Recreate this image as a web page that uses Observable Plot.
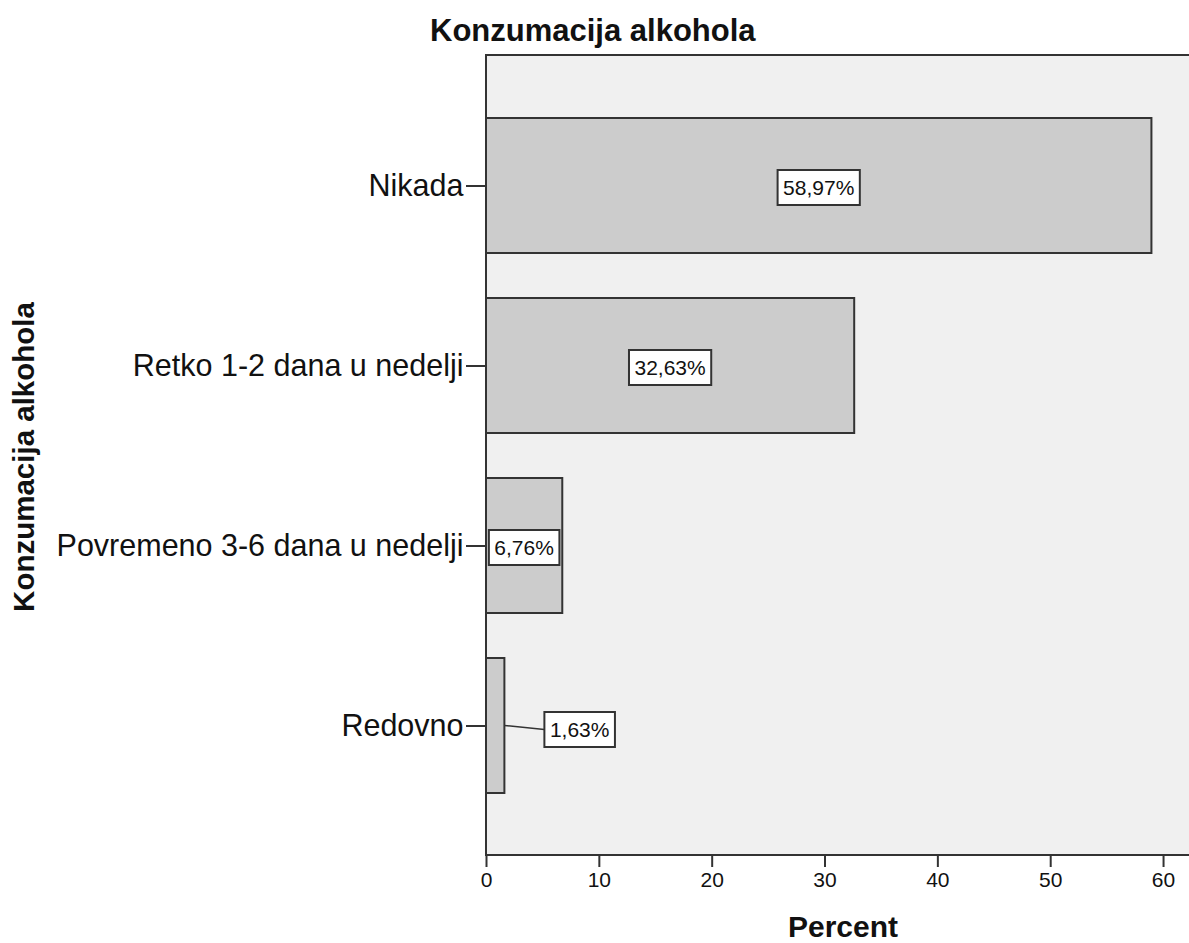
<!DOCTYPE html>
<html><head><meta charset="utf-8">
<script src="https://cdn.jsdelivr.net/npm/d3@7"></script>
<script src="https://cdn.jsdelivr.net/npm/@observablehq/plot@0.6"></script>
<style>body{margin:0;background:#fff;}</style>
</head><body><div id="chart"></div>
<script>
const categories = ["Nikada", "Retko 1-2 dana u nedelji", "Povremeno 3-6 dana u nedelji", "Redovno"];
const percents = [58.97, 32.63, 6.76, 1.63];
const valueLabels = ["58,97%", "32,63%", "6,76%", "1,63%"];
const xTicks = [0, 10, 20, 30, 40, 50, 60];
const chartTitle = "Konzumacija alkohola";
const xTitle = "Percent";
const yTitle = "Konzumacija alkohola";

const FONT = '"Liberation Sans", Arial, sans-serif';
const data = categories.map((c, i) => ({category: c, percent: percents[i], label: valueLabels[i]}));

function frameLines(index, scales, values, dim) {
  const l = dim.marginLeft, t = dim.marginTop, b = dim.height - dim.marginBottom, r = dim.width - dim.marginRight;
  const g = d3.create("svg:g");
  g.append("path").attr("d", `M${r},${t}H${l}V${b}H${r}`)
    .attr("fill", "none").attr("stroke", "#333").attr("stroke-width", 2);
  return g.node();
}

function boxedLabels(index, scales, values, dim) {
  const g = d3.create("svg:g").attr("font-family", FONT).attr("font-size", 21);
  const ctx = document.createElement("canvas").getContext("2d");
  ctx.font = `21px ${FONT}`;
  const bw = scales.y.bandwidth ? scales.y.bandwidth() : 0;
  for (const d of data) {
    const cy = scales.y(d.category) + bw / 2;
    const w = ctx.measureText(d.label).width + 11, h = 35;
    const barW = scales.x(d.percent) - scales.x(0);
    let cx, by = cy + 2;
    if (barW >= w) {
      cx = scales.x(d.percent / 2);
    } else {
      const x0 = scales.x(d.percent);
      cx = x0 + 40 + w / 2;
      by = cy + 4;
      g.append("path").attr("d", `M${x0},${cy}L${x0 + 40},${by}`)
        .attr("fill", "none").attr("stroke", "#333").attr("stroke-width", 1.5);
    }
    g.append("rect").attr("x", cx - w / 2).attr("y", by - h / 2).attr("width", w).attr("height", h)
      .attr("fill", "#fff").attr("stroke", "#333").attr("stroke-width", 2);
    g.append("text").attr("x", cx).attr("y", by).attr("text-anchor", "middle")
      .attr("dominant-baseline", "central").attr("fill", "#111").text(d.label);
  }
  return g.node();
}

function titles(index, scales, values, dim) {
  const g = d3.create("svg:g").attr("font-family", FONT).attr("font-weight", "bold").attr("fill", "#111");
  g.append("text").attr("x", 430).attr("y", 41).attr("text-anchor", "start").attr("font-size", 31).text(chartTitle);
  g.append("text").attr("x", 843).attr("y", 937).attr("text-anchor", "middle").attr("font-size", 30).text(xTitle);
  g.append("text").attr("transform", "translate(34,457) rotate(-90)").attr("text-anchor", "middle")
    .attr("font-size", 29.5).text(yTitle);
  return g.node();
}

const chart = Plot.plot({
  width: 1189,
  height: 943,
  marginLeft: 486,
  marginRight: 0,
  marginTop: 55,
  marginBottom: 88,
  style: {fontFamily: FONT, background: "#fff", color: "#111"},
  x: {domain: [0, 62.3]},
  y: {domain: categories, paddingInner: 0.25, paddingOuter: 0.34},
  marks: [
    Plot.frame({fill: "#f0f0f0", stroke: "none"}),
    Plot.barX(data, {x: "percent", y: "category", fill: "#cccccc", stroke: "#333", strokeWidth: 2}),
    frameLines,
    Plot.axisX({ticks: xTicks, tickSize: 12, tickPadding: 5, fontSize: 21, label: null, stroke: "#333", strokeWidth: 2}),
    Plot.axisY({tickSize: 20, tickPadding: 3, fontSize: 30.5, label: null, stroke: "#333", strokeWidth: 2}),
    boxedLabels,
    titles
  ]
});
document.getElementById("chart").appendChild(chart);
</script>
</body></html>
